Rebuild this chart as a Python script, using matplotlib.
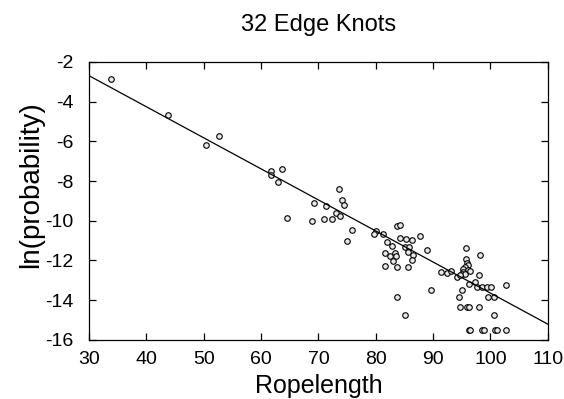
import matplotlib
matplotlib.use("Agg")
import matplotlib.pyplot as plt
import numpy as np

plt.rcParams['font.family'] = ['Liberation Sans', 'DejaVu Sans']
plt.rcParams['axes.unicode_minus'] = False

# Datos
ropelength = [
    33.8, 43.7, 52.6, 50.4, 61.8, 61.8, 63.7, 63.0, 64.6, 73.65,
    74.1, 74.4, 69.2, 71.4, 73.1, 73.7, 68.8, 71.0, 72.3, 75.9,
    75.0, 80.0, 79.65, 81.2, 83.8, 84.2, 82.0, 82.9, 84.3, 85.3,
    86.3, 87.7, 85.1, 85.8, 85.6, 86.5, 81.6, 82.5, 83.4, 83.6,
    83.1, 86.3, 81.6, 83.8, 85.7, 89.0, 91.4, 92.5, 93.1, 94.1,
    89.6, 83.8, 85.1, 95.8, 98.2, 95.7, 95.9, 96.1, 95.6, 95.3,
    96.1, 95.2, 95.0, 95.6, 96.4, 94.7, 98.1, 96.2, 97.4, 97.6,
    98.5, 99.4, 100.1, 102.7, 95.1, 94.6, 99.6, 100.6, 94.7, 96.0,
    96.3, 98.0, 100.7, 96.3, 96.5, 98.6, 98.9, 100.8, 101.1, 102.8,
]
ln_prob = [
    -2.85, -4.7, -5.75, -6.2, -7.5, -7.7, -7.4, -8.05, -9.85, -8.4,
    -8.95, -9.2, -9.1, -9.25, -9.6, -9.75, -10.0, -9.9, -9.9, -10.45,
    -11.0, -10.5, -10.65, -10.65, -10.25, -10.2, -11.05, -11.25, -10.85, -10.9,
    -10.95, -10.75, -11.3, -11.3, -11.55, -11.7, -11.6, -11.75, -11.6, -11.75,
    -12.05, -12.0, -12.3, -12.35, -12.35, -11.45, -12.6, -12.65, -12.55, -12.85,
    -13.5, -13.85, -14.75, -11.35, -11.7, -11.95, -12.15, -12.25, -12.35, -12.45,
    -12.5, -12.6, -12.7, -12.7, -12.55, -12.75, -12.75, -13.2, -13.1, -13.35,
    -13.35, -13.35, -13.35, -13.25, -13.5, -13.85, -13.85, -13.85, -14.35, -14.35,
    -14.35, -14.35, -14.75, -15.5, -15.5, -15.5, -15.5, -15.5, -15.5, -15.5,
]

# Recta de ajuste
fit_x = [30, 110]
fit_y = [-2.7, -15.2]

x_ticks = [30, 40, 50, 60, 70, 80, 90, 100, 110]
y_ticks = [-16, -14, -12, -10, -8, -6, -4, -2]

fig = plt.figure(figsize=(5.64, 3.99), dpi=100)
ax = fig.add_axes([0.158, 0.148, 0.813, 0.697])

ax.plot(ropelength, ln_prob, 'o', markersize=4.0, markerfacecolor='#e8e8e8',
        markeredgecolor='black', markeredgewidth=0.8, linestyle='none')
ax.plot(fit_x, fit_y, 'k-', linewidth=0.9)

ax.set_xlim(30, 110)
ax.set_ylim(-16, -2)
ax.set_xticks(x_ticks)
ax.set_yticks(y_ticks)
ax.tick_params(direction='in', top=True, right=True, length=5, width=0.9,
               labelsize=14)
ax.tick_params(axis='x', pad=8)
ax.tick_params(axis='y', pad=11)
for s in ax.spines.values():
    s.set_linewidth(0.9)

ax.set_title('32 Edge Knots', fontsize=17, pad=22)
ax.set_xlabel('Ropelength', fontsize=18, labelpad=4)
ax.set_ylabel('ln(probability)', fontsize=20)
ax.yaxis.set_label_coords(-0.098, 0.56)

fig.savefig('out.png', dpi=100)
